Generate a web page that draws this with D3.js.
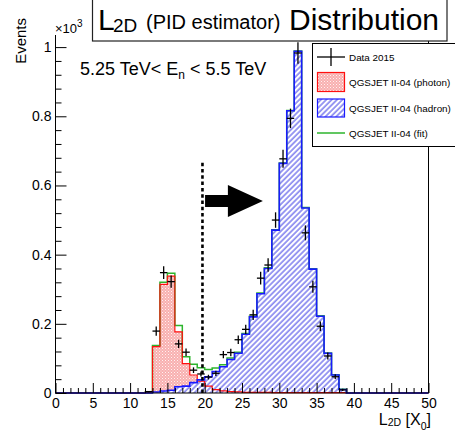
<!DOCTYPE html>
<html>
<head>
<meta charset="utf-8">
<script src="https://cdn.jsdelivr.net/npm/d3@7"></script>
<style>
  body { margin: 0; background: #fff; }
  svg { display: block; font-family: "Liberation Sans", Arial, sans-serif; }
</style>
</head>
<body>
<div id="container"></div>
<script>
// bins of 1 X0, lower edges
var bins = [12,13,14,15,16,17,18,19,20,21,22,23,24,25,26,27,28,29,30,31,32,33,34,35,36,37,38];
// values in units of 10^3 events
var photon = [0.002,0.134,0.314,0.338,0.177,0.085,0.052,0.034,0.020,0.010,0.006,0.004,0.003,0.002,0.002,0.002,0.002,0.001,0.001,0.001,0.001,0.001,0.001,0.001,0.001,0.001,0.001];
var hadron = [0.000,0.003,0.006,0.008,0.018,0.020,0.030,0.038,0.047,0.062,0.076,0.097,0.115,0.170,0.220,0.287,0.360,0.471,0.664,0.816,0.988,0.535,0.358,0.222,0.115,0.052,0.010];
var fit    = [0.002,0.137,0.320,0.346,0.195,0.105,0.083,0.073,0.068,0.072,0.082,0.101,0.118,0.172,0.222,0.289,0.362,0.472,0.665,0.817,0.989,0.536,0.359,0.223,0.116,0.053,0.011];
var data15 = [0.004,0.179,0.348,0.322,0.142,0.118,0.066,0.055,0.046,0.057,0.111,0.117,0.154,0.184,0.226,0.332,0.370,0.500,0.677,0.794,0.983,0.463,0.307,0.193,0.107,0.047,0.009];
var xMajor = [0,5,10,15,20,25,30,35,40,45,50];
var yMajor = [0,0.2,0.4,0.6,0.8,1];
var legendLabels = ["Data 2015","QGSJET II-04 (photon)","QGSJET II-04 (hadron)","QGSJET II-04 (fit)"];
var cutX = 19.7; // dashed cut line
var arrowFrom = 20.05, arrowTo = 27.8, arrowY = 0.555;

var W = 455, H = 439;
var x = d3.scaleLinear().domain([0, 50]).range([55.5, 428.5]);
var y = d3.scaleLinear().domain([0, 1.035]).range([393, 35]);

var svg = d3.select("#container").append("svg")
    .attr("width", W).attr("height", H);

var defs = svg.append("defs");
var pd = defs.append("pattern").attr("id", "dots")
    .attr("width", 3).attr("height", 3).attr("patternUnits", "userSpaceOnUse");
pd.append("rect").attr("width", 3).attr("height", 3).attr("fill", "#f8b0b0");
pd.append("rect").attr("x", 0).attr("y", 0).attr("width", 1).attr("height", 1).attr("fill", "#fff2f2");
pd.append("rect").attr("x", 1.5).attr("y", 1.5).attr("width", 1).attr("height", 1).attr("fill", "#fce2e2");
var ph = defs.append("pattern").attr("id", "hatch")
    .attr("width", 3.8).attr("height", 3.8).attr("patternUnits", "userSpaceOnUse")
    .attr("patternTransform", "rotate(45)");
ph.append("rect").attr("width", 3.8).attr("height", 3.8).attr("fill", "#fff");
ph.append("line").attr("x1", 1).attr("y1", 0).attr("x2", 1).attr("y2", 3.8)
    .attr("stroke", "#4a4ae8").attr("stroke-width", 1.1);

function steps(vals) { // histogram outline points over the full axis range
	var pts = [[0, 0], [bins[0], 0]];
	for (var i = 0; i < bins.length; i++) {
		pts.push([bins[i], vals[i]]);
		pts.push([bins[i] + 1, vals[i]]);
	}
	pts.push([bins[bins.length - 1] + 1, 0]);
	pts.push([50, 0]);
	return pts;
}
var line = d3.line().x(function(d) { return x(d[0]); }).y(function(d) { return y(d[1]); });
var area = d3.area().x(function(d) { return x(d[0]); }).y0(y(0)).y1(function(d) { return y(d[1]); });

var g = svg.append("g");
g.append("path").attr("d", area(steps(photon))).attr("fill", "url(#dots)");
g.append("path").attr("d", area(steps(hadron))).attr("fill", "url(#hatch)");
g.append("path").attr("d", line(steps(fit))).attr("fill", "none").attr("stroke", "#2db52d").attr("stroke-width", 1.5);
g.append("path").attr("d", line(steps(photon))).attr("fill", "none").attr("stroke", "#ff1010").attr("stroke-width", 1.2);
g.append("path").attr("d", line(steps(hadron))).attr("fill", "none").attr("stroke", "#1a1aff").attr("stroke-width", 1.6);

// data points with sqrt(N) errors
var pts = bins.map(function(b, i) { return {x: b + 0.5, v: data15[i], e: Math.sqrt(data15[i] * 1000) / 1000}; });
var dp = g.selectAll("g.pt").data(pts).enter().append("g").attr("class", "pt");
dp.append("line")
    .attr("x1", function(d) { return x(d.x - 0.5); }).attr("x2", function(d) { return x(d.x + 0.5); })
    .attr("y1", function(d) { return y(d.v); }).attr("y2", function(d) { return y(d.v); })
    .attr("stroke", "#000").attr("stroke-width", 1.3);
dp.append("line")
    .attr("x1", function(d) { return x(d.x); }).attr("x2", function(d) { return x(d.x); })
    .attr("y1", function(d) { return y(d.v - d.e); }).attr("y2", function(d) { return y(d.v + d.e); })
    .attr("stroke", "#000").attr("stroke-width", 1.3);

// cut line and arrow
svg.append("line").attr("x1", x(cutX)).attr("x2", x(cutX)).attr("y1", y(0)).attr("y2", y(0.673))
    .attr("stroke", "#000").attr("stroke-width", 2.6).attr("stroke-dasharray", "3.5,2.8");
var ax0 = x(arrowFrom), ax1 = x(arrowTo), ay = y(arrowY), headL = 35;
svg.append("path")
    .attr("d", "M" + ax0 + "," + (ay - 6) + "H" + (ax1 - headL) + "V" + (ay - 16) + "L" + ax1 + "," + ay +
        "L" + (ax1 - headL) + "," + (ay + 16) + "V" + (ay + 6) + "H" + ax0 + "Z")
    .attr("fill", "#000");

// axes
svg.append("g").attr("transform", "translate(0," + y(0) + ")")
    .call(d3.axisBottom(x).tickValues(d3.range(0, 51, 1).filter(function(v) { return v % 5; }))
        .tickSizeInner(-5).tickSizeOuter(0).tickFormat(""))
    .call(function(s) { s.select(".domain").remove(); });
svg.append("g").attr("transform", "translate(0," + y(0) + ")")
    .call(d3.axisBottom(x).tickValues(xMajor).tickSizeInner(-10).tickSizeOuter(0).tickPadding(5))
    .call(function(s) { s.select(".domain").remove(); s.selectAll("text").attr("font-size", 14).attr("fill", "#000").attr("font-family", null); });
svg.append("g").attr("transform", "translate(" + x(0) + ",0)")
    .call(d3.axisLeft(y).tickValues(d3.range(0, 26).map(function(i) { return i * 0.04; }).filter(function(v, i) { return i % 5; }))
        .tickSizeInner(-6).tickSizeOuter(0).tickFormat(""))
    .call(function(s) { s.select(".domain").remove(); });
svg.append("g").attr("transform", "translate(" + x(0) + ",0)")
    .call(d3.axisLeft(y).tickValues(yMajor).tickSizeInner(-11).tickSizeOuter(0).tickPadding(4).tickFormat(d3.format("~g")))
    .call(function(s) { s.select(".domain").remove(); s.selectAll("text").attr("font-size", 14).attr("fill", "#000").attr("font-family", null); });
svg.selectAll(".tick line").attr("stroke", "#000");

// frame (top edge sits under the title box)
svg.append("path")
    .attr("d", "M" + x(0) + "," + y(1.035) + "V" + y(0) + "H" + x(50) + "V" + y(1.035))
    .attr("fill", "none").attr("stroke", "#000").attr("stroke-width", 1);

// axis titles
svg.append("text").attr("transform", "translate(26,18) rotate(-90)").attr("text-anchor", "end")
    .attr("font-size", 15).text("Events");
var e3 = svg.append("text").attr("x", 55).attr("y", 33).attr("font-size", 13);
e3.append("tspan").text("\u00d710");
e3.append("tspan").attr("dy", -6).attr("font-size", 10).text("3");
var xt = svg.append("text").attr("x", 431).attr("y", 425).attr("text-anchor", "end").attr("font-size", 16);
xt.append("tspan").text("L");
xt.append("tspan").attr("font-size", 10.5).attr("dy", 1).text("2D");
xt.append("tspan").attr("dy", -1).text(" [X");
xt.append("tspan").attr("font-size", 10.5).attr("dy", 5).text("0");
xt.append("tspan").attr("dy", -5).text("]");

// energy range
var er = svg.append("text").attr("x", 80).attr("y", 75).attr("font-size", 18);
er.append("tspan").text("5.25 TeV< E");
er.append("tspan").attr("font-size", 12).attr("dy", 4).text("n");
er.append("tspan").attr("dy", -4).text(" < 5.5 TeV");

// legend
var lg = svg.append("g");
lg.append("rect").attr("x", 312.5).attr("y", 43.5).attr("width", 160).attr("height", 103)
    .attr("fill", "#fff").attr("stroke", "#000");
var rowY = [57, 82, 108, 133];
lg.append("line").attr("x1", 317).attr("x2", 345).attr("y1", rowY[0]).attr("y2", rowY[0]).attr("stroke", "#000").attr("stroke-width", 1.3);
lg.append("line").attr("x1", 331).attr("x2", 331).attr("y1", rowY[0] - 9).attr("y2", rowY[0] + 9).attr("stroke", "#000").attr("stroke-width", 1.3);
lg.append("rect").attr("x", 317.5).attr("y", rowY[1] - 9.5).attr("width", 27).attr("height", 19)
    .attr("fill", "url(#dots)").attr("stroke", "#ff1010").attr("stroke-width", 1.2);
lg.append("rect").attr("x", 317.5).attr("y", rowY[2] - 9).attr("width", 27).attr("height", 18)
    .attr("fill", "url(#hatch)").attr("stroke", "#1a1aff").attr("stroke-width", 1.2);
lg.append("line").attr("x1", 317).attr("x2", 345).attr("y1", rowY[3]).attr("y2", rowY[3]).attr("stroke", "#2db52d").attr("stroke-width", 1.5);
lg.selectAll("text.lab").data(legendLabels).enter().append("text").attr("class", "lab")
    .attr("x", 349).attr("y", function(d, i) { return rowY[i] + 4; })
    .attr("font-size", 9.9).text(function(d) { return d; });

// title box
var tb = svg.append("g");
tb.append("rect").attr("x", 92.5).attr("y", -1).attr("width", 354.5).attr("height", 42)
    .attr("fill", "#fff").attr("stroke", "#222").attr("stroke-width", 1.2);
tb.append("text").attr("x", 98).attr("y", 30).attr("font-size", 30).text("L");
tb.append("text").attr("x", 113).attr("y", 32).attr("font-size", 19).text("2D");
tb.append("text").attr("x", 146).attr("y", 29).attr("font-size", 20).text("(PID estimator)");
tb.append("text").attr("x", 289).attr("y", 30).attr("font-size", 30).text("Distribution");
</script>
</body>
</html>
